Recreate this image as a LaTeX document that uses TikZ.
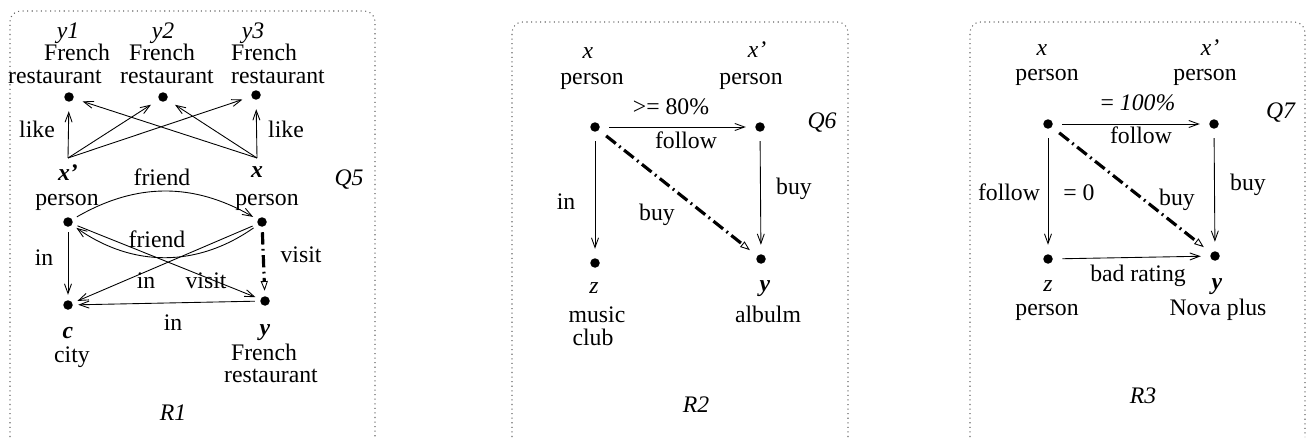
\documentclass[tikz,border=0pt]{standalone}
\usepackage{fontspec}
\setmainfont{Liberation Serif}
\usetikzlibrary{arrows.meta}
\begin{document}
\begin{tikzpicture}[x=0.02cm,y=-0.02cm,font=\fontsize{13.5}{13}\selectfont]
\tikzstyle{vx} = [circle,fill=black,inner sep=0pt,minimum size=0.19cm,outer sep=0.19cm] %vertex
\tikzstyle{vs} = [vx,outer sep=0.11cm] %vertex, small gap
\tikzstyle{lb} = [inner sep=0pt,text height=0.7em,text depth=0.1em] %label
\tikzstyle{de} = [-{Straight Barb[length=5.5pt,width=4pt]},line width=0.5pt] %directed edge
\tikzstyle{ie} = [-{Triangle[open,length=5.5pt,width=4pt,line width=0.5pt]},line width=1.8pt,dash pattern=on 7pt off 2.5pt on 1pt off 2.5pt] %derived edge
\tikzstyle{pn} = [draw=black!60,line width=0.6pt,dotted,rounded corners=6pt] %panel
\useasboundingbox (0,0) rectangle (1308,439);
\draw[pn](10,437)--(10,11)--(375,11)--(375,437);
\draw[pn](512,437)--(512,22)--(848,22)--(848,437);
\draw[pn](970,437)--(970,22)--(1305,22)--(1305,437);
% R1
\node[vx](ya)at(69,97){};
\node[vx](yb)at(163,97){};
\node[vx](yc)at(256,95){};
\coordinate(xpt)at(68,158);
\coordinate(xt)at(257,158);
\node[vs](vp)at(68,222){};
\node[vs](vq)at(262,222){};
\node[vs](vc)at(68,305){};
\node[vs](vy)at(265,301){};
\node[lb](lya)at(68,33){\textit{y1}};
\node[lb](lfa)at(77,55){French};
\node[lb](lra)at(55,78){restaurant};
\node[lb](lyb)at(163,33){\textit{y2}};
\node[lb](lfb)at(162,55){French};
\node[lb](lrb)at(167,78){restaurant};
\node[lb](lyc)at(253,33){\textit{y3}};
\node[lb](lfc)at(264,55){French};
\node[lb](lrc)at(278,78){restaurant};
\node[lb](llka)at(37,132){like};
\node[lb](llkb)at(286,132){like};
\node[lb](lxp)at(68,175){\textbf{\textit{x'}}};
\node[lb](lx)at(257,172){\textbf{\textit{x}}};
\node[lb](lfra)at(162,180){friend};
\node[lb](lq5)at(349,180){\textit{Q5}};
\node[lb](lpa)at(67,200){person};
\node[lb](lpb)at(267,200){person};
\node[lb](lfrb)at(157,242){friend};
\node[lb](lina)at(44,260){in};
\node[lb](lvia)at(301,257){visit};
\node[lb](linb)at(146,283){in};
\node[lb](lvib)at(206,283){visit};
\node[lb](linc)at(173,325){in};
\node[lb](lc)at(68,333){\textbf{\textit{c}}};
\node[lb](lcity)at(72,357){city};
\node[lb](ly)at(265,330){\textbf{\textit{y}}};
\node[lb](lfd)at(264,355){French};
\node[lb](lrd)at(271,377){restaurant};
\node[lb](lr1)at(173,415){\textit{R1}};
\draw[de](xpt)--(ya);
\draw[de](xpt)--(yb);
\draw[de](xpt)--(yc);
\draw[de](xt)--(ya);
\draw[de](xt)--(yb);
\draw[de](xt)--(yc);
\draw[de](vp)to[bend left=30](vq);
\draw[de](vq)to[bend left=35](vp);
\draw[de](vp)--(vc);
\draw[de](vq)--(vc);
\draw[de](vp)--(vy);
\draw[ie](vq)--(vy);
\draw[de](vy)--(vc);
% R2
\node[vx](wx)at(595,127){};
\node[vx](wxp)at(760,127){};
\node[vx](wz)at(595,263){};
\node[vx](wy)at(761,259){};
\node[lb](lwx)at(588,53){\textit{x}};
\node[lb](lwpa)at(592,79){person};
\node[lb](lwxp)at(757,52){\textit{x'}};
\node[lb](lwpb)at(751,79){person};
\node[lb](lwge)at(671,109){>= 80\%};
\node[lb](lwfo)at(686,143){follow};
\node[lb](lq6)at(822,123){\textit{Q6}};
\node[lb](lwin)at(566,204){in};
\node[lb](lwba)at(657,215){buy};
\node[lb](lwbb)at(794,189){buy};
\node[lb](lwz)at(594,288){\textit{z}};
\node[lb](lwmu)at(597,317){music};
\node[lb](lwcl)at(593,340){club};
\node[lb](lwy)at(765,286){\textbf{\textit{y}}};
\node[lb](lwal)at(768,317){albulm};
\node[lb](lr2)at(696,407){\textit{R2}};
\draw[de](wx)--(wxp);
\draw[de](wx)--(wz);
\draw[de](wxp)--(wy);
\draw[ie](wx)--(wy);
% R3
\node[vx](ux)at(1048,124){};
\node[vx](uxp)at(1214,124){};
\node[vx](uz)at(1048,259){};
\node[vx](uy)at(1215,256){};
\node[lb](lux)at(1042,50){\textit{x}};
\node[lb](lupa)at(1047,75){person};
\node[lb](luxp)at(1210,50){\textit{x'}};
\node[lb](lupb)at(1205,75){person};
\node[lb](lueq)at(1138,105){= \textit{100\%}};
\node[lb](lufa)at(1141,138){follow};
\node[lb](lq7)at(1281,113){\textit{Q7}};
\node[lb](lufb)at(1009,195){follow};
\node[lb](luze)at(1079,195){= 0};
\node[lb](luba)at(1177,200){buy};
\node[lb](lubb)at(1248,185){buy};
\node[lb](lubr)at(1138,276){bad rating};
\node[lb](luz)at(1048,286){\textit{z}};
\node[lb](lupc)at(1047,310){person};
\node[lb](luy)at(1217,284){\textbf{\textit{y}}};
\node[lb](lunp)at(1218,310){Nova plus};
\node[lb](lr3)at(1143,398){\textit{R3}};
\draw[de](ux)--(uxp);
\draw[de](ux)--(uz);
\draw[de](uxp)--(uy);
\draw[de](uz)--(uy);
\draw[ie](ux)--(uy);
\end{tikzpicture}
\end{document}
